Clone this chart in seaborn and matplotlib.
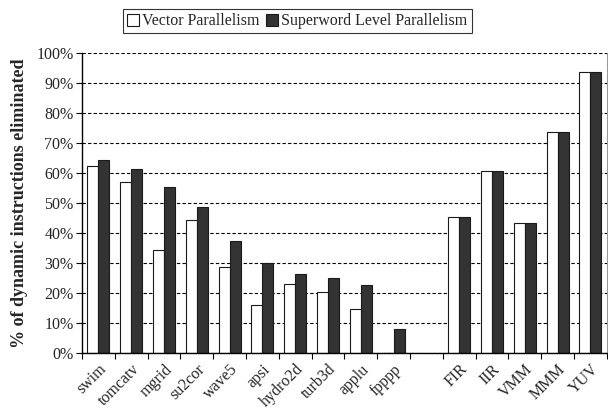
import matplotlib
matplotlib.use("Agg")
import matplotlib.pyplot as plt
import seaborn as sns
import pandas as pd
import numpy as np
from matplotlib.patches import Patch
from matplotlib.ticker import FixedLocator, PercentFormatter

categories = ["swim", "tomcatv", "mgrid", "su2cor", "wave5", "apsi", "hydro2d",
              "turb3d", "applu", "fpppp", " ", "FIR", "IIR", "VMM", "MMM", "YUV"]
vector_par = [62.4, 57.0, 34.3, 44.2, 28.7, 15.9, 22.9, 20.3, 14.7, 0.0,
              np.nan, 45.3, 60.7, 43.4, 73.7, 93.7]
slp_par = [64.4, 61.3, 55.2, 48.8, 37.3, 30.0, 26.2, 24.9, 22.6, 8.1,
           np.nan, 45.3, 60.7, 43.4, 73.7, 93.7]
series = ["Vector Parallelism", "Superword Level Parallelism"]
colors = ["white", "#333333"]

df = pd.DataFrame({
    "bench": categories * 2,
    "value": vector_par + slp_par,
    "series": [series[0]] * len(categories) + [series[1]] * len(categories),
})

sns.set_theme(style="white")
plt.rcParams["font.family"] = ["Liberation Serif", "DejaVu Serif"]

fig = plt.figure(figsize=(6.08, 4.09), dpi=100)
ax = fig.add_axes([0.135, 0.137, 0.863, 0.733])

sns.barplot(data=df, x="bench", y="value", hue="series", order=categories,
            hue_order=series, palette=colors, width=0.67, ax=ax,
            edgecolor="#1a1a1a", linewidth=0.8, legend=False, errorbar=None)

ax.set_xlim(-0.5, len(categories) - 0.5)
ax.set_ylim(0, 100)
ax.set_yticks(np.arange(0, 101, 10))
ax.yaxis.set_major_formatter(PercentFormatter(decimals=0))
ax.yaxis.grid(True, linestyle=(0, (3, 2)), color="black", linewidth=0.8)
ax.set_axisbelow(True)

ax.set_xticks(range(len(categories)))
ax.set_xticklabels(categories, rotation=45, ha="right", rotation_mode="anchor", fontsize=11.5)
ax.tick_params(axis="x", which="major", length=0, pad=6)
ax.xaxis.set_minor_locator(FixedLocator(np.arange(-0.5, len(categories), 1.0)))
ax.tick_params(axis="x", which="minor", bottom=True, length=4, width=0.8, color="black", direction="out")
ax.tick_params(axis="y", left=True, length=4, width=0.8, color="black", labelsize=11.5, pad=2)

ax.set_xlabel("")
ax.set_ylabel("% of dynamic instructions eliminated", fontsize=13, fontweight="bold", labelpad=6)

for s in ["left", "bottom"]:
    ax.spines[s].set_color("black")
    ax.spines[s].set_linewidth(1.0)
ax.spines["top"].set_visible(False)
ax.spines["right"].set_color("#999999")
ax.spines["right"].set_linewidth(0.8)

handles = [Patch(facecolor=c, edgecolor="#1a1a1a", linewidth=0.8) for c in colors]
leg = fig.legend(handles, series, loc="center", bbox_to_anchor=(0.489, 0.948), ncol=2,
                 frameon=True, fancybox=False, edgecolor="black", fontsize=11.5,
                 handlelength=0.75, handleheight=0.75, handletextpad=0.2,
                 columnspacing=0.4, borderpad=0.25, borderaxespad=0)
leg.get_frame().set_linewidth(0.8)

fig.savefig("out.png", dpi=100)
